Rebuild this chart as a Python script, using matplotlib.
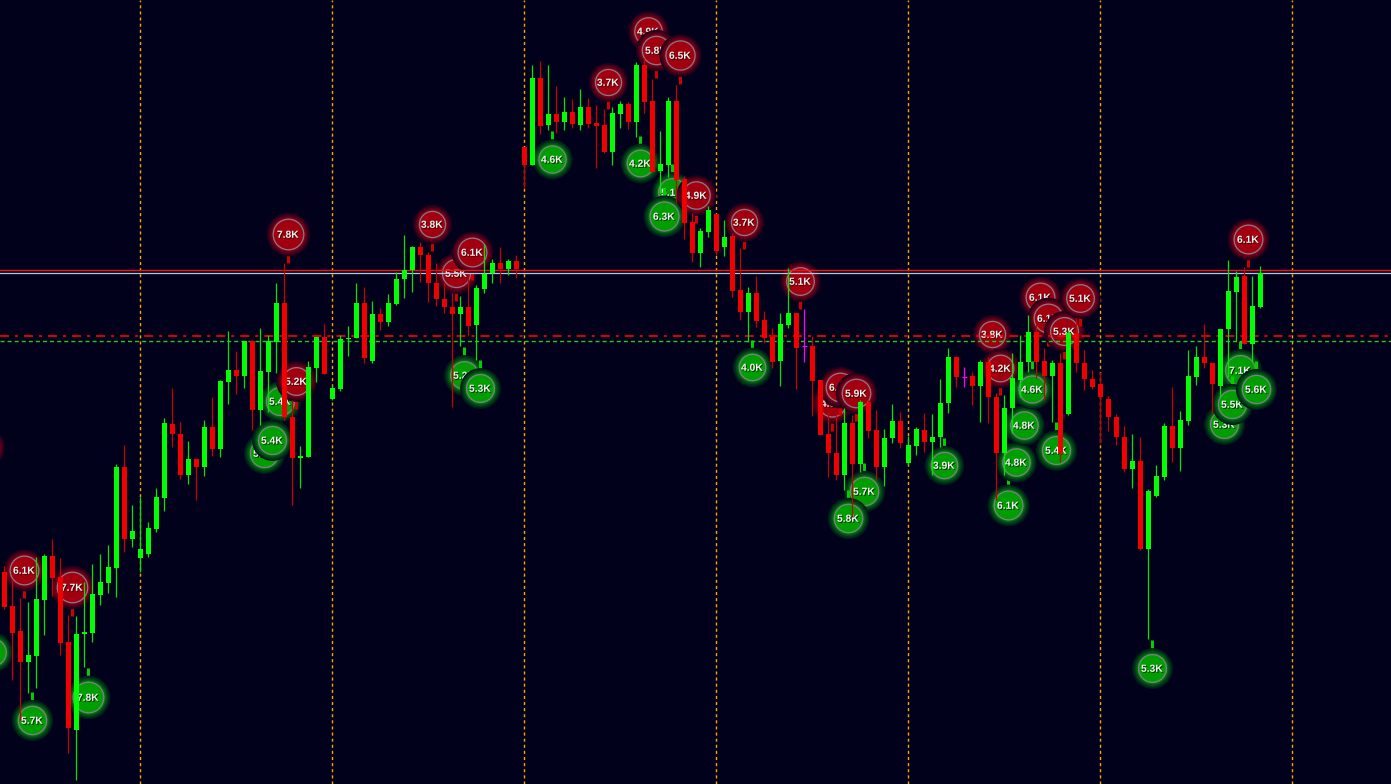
import matplotlib
matplotlib.use("Agg")
import matplotlib.pyplot as plt
import matplotlib.patheffects as pe

plt.rcParams['lines.scale_dashes'] = False

# ---------------- data (price in points) ----------------
opens = [428, 394, 369, 338, 344, 400, 444, 423, 358, 270, 366, 367, 405, 417, 432, 533, 461, 442, 446, 471,
         502, 576, 566, 525, 541, 533, 573, 551, 618, 630, 624, 659, 590, 628, 658, 697, 583, 542, 543, 632,
         663, 601, 611, 661, 662, 697, 639, 686, 678, 696, 721, 730, 753, 745, 717, 701, 693, 686, 693, 675,
         711, 727, 737, 731, 739, 853, 835, 922, 875, 886, 878, 888, 875, 893, 877, 875, 848, 886, 896, 878,
         935, 899, 829, 835, 899, 821, 778, 747, 768, 786, 753, 764, 710, 688, 707, 680, 663, 639, 675, 687,
         654, 654, 620, 566, 547, 525, 577, 536, 598, 570, 533, 562, 579, 537, 554, 570, 558, 563, 597, 643,
         623, 624, 614, 638, 603, 547, 592, 620, 638, 668, 639, 624, 637, 586, 667, 637, 621, 616, 601, 583,
         563, 531, 539, 451, 504, 523, 574, 552, 579, 623, 643, 637, 614, 671, 708, 724, 656, 693]
highs = [434, 420, 402, 398, 443, 446, 461, 442, 385, 384, 418, 436, 446, 455, 536, 555, 495, 503, 478, 512,
         582, 612, 578, 559, 541, 580, 603, 620, 669, 649, 659, 660, 672, 665, 717, 737, 600, 554, 639, 663,
         676, 615, 665, 674, 717, 713, 699, 692, 706, 728, 765, 754, 758, 748, 737, 717, 707, 704, 725, 715,
         756, 741, 753, 741, 745, 853, 935, 939, 935, 914, 903, 901, 911, 902, 895, 891, 893, 899, 898, 938,
         942, 921, 869, 903, 915, 824, 787, 772, 794, 786, 780, 767, 752, 713, 724, 689, 672, 687, 732, 687,
         691, 664, 620, 588, 587, 592, 585, 600, 600, 590, 571, 596, 588, 564, 573, 587, 586, 621, 652, 644,
         633, 628, 640, 643, 607, 605, 647, 665, 685, 677, 652, 640, 647, 670, 682, 650, 630, 628, 604, 586,
         574, 566, 563, 511, 535, 577, 613, 589, 650, 654, 676, 637, 671, 740, 729, 733, 724, 734]
lows = [391, 320, 280, 307, 312, 365, 404, 345, 247, 220, 333, 358, 395, 407, 403, 448, 453, 428, 443, 468,
        489, 553, 521, 516, 500, 524, 544, 543, 596, 606, 612, 570, 575, 588, 627, 580, 495, 512, 543, 618,
        626, 600, 609, 644, 662, 637, 637, 670, 674, 695, 702, 708, 718, 698, 694, 687, 593, 654, 664, 640,
        707, 717, 717, 725, 722, 812, 835, 866, 870, 867, 870, 872, 870, 872, 832, 847, 835, 872, 871, 863,
        887, 828, 807, 823, 797, 761, 738, 733, 763, 745, 744, 703, 680, 658, 673, 657, 632, 614, 672, 611,
        638, 584, 565, 523, 520, 510, 483, 528, 562, 520, 514, 557, 552, 535, 545, 548, 525, 553, 587, 613,
        613, 595, 578, 577, 500, 525, 567, 603, 628, 622, 600, 578, 538, 585, 628, 610, 611, 557, 569, 555,
        528, 512, 450, 361, 503, 520, 538, 529, 575, 615, 632, 587, 603, 623, 659, 656, 638, 692]
closes = [393, 367, 338, 345, 401, 444, 422, 357, 272, 366, 368, 406, 418, 433, 533, 461, 469, 451, 472, 503,
          577, 566, 525, 541, 533, 573, 551, 619, 630, 624, 659, 590, 629, 659, 697, 583, 542, 544, 633, 663,
          626, 612, 661, 662, 697, 642, 686, 678, 697, 721, 730, 753, 745, 717, 701, 693, 686, 693, 674, 712,
          726, 737, 731, 739, 731, 835, 922, 874, 886, 878, 888, 876, 893, 876, 874, 848, 887, 896, 878, 935,
          898, 828, 836, 899, 820, 777, 747, 769, 790, 749, 763, 709, 688, 707, 679, 662, 638, 676, 687, 652,
          654, 619, 565, 547, 525, 577, 536, 598, 569, 533, 562, 579, 557, 555, 571, 558, 563, 597, 643, 623,
          623, 614, 638, 603, 547, 592, 622, 638, 668, 638, 624, 637, 547, 667, 637, 621, 613, 603, 583, 563,
          531, 539, 451, 509, 524, 574, 552, 580, 624, 643, 637, 616, 671, 709, 723, 656, 694, 727]

separator_idx = [17, 41, 65, 89, 113, 137, 161]
bid_level = 730
ask_level = 727
dashdot_level = 664
dashed_level = 659

buy_idx = [-2, 3, 10, 32, 33, 34, 57, 59, 68, 79, 83, 82, 93, 107, 105, 117, 125, 126, 127, 128,
           131, 143, 152, 154, 153, 156]
buy_price = [348, 280, 303, 547, 560, 599, 625, 612, 841, 837, 808, 784, 633, 509, 482, 535, 495, 538,
             575, 611, 550, 332, 576, 630, 596, 611]
buy_vol = [5.0, 5.7, 7.8, 5.5, 5.4, 5.4, 5.2, 5.3, 4.6, 4.2, 5.1, 6.3, 4.0, 5.7, 5.8, 3.9, 6.1, 4.8,
           4.8, 4.6, 5.4, 5.3, 5.3, 7.1, 5.5, 5.6]

sell_idx = [-3, 2, 8, 35, 36, 53, 56, 58, 75, 80, 81, 84, 86, 92, 99, 103, 104, 106, 123, 124,
            129, 130, 132, 134, 155]
sell_price = [553, 430, 413, 766, 619, 776, 727, 748, 918, 969, 950, 945, 805, 778, 719, 597, 613,
              607, 666, 632, 703, 682, 669, 702, 761]
sell_vol = [5.0, 6.1, 7.7, 7.8, 5.2, 3.8, 5.5, 6.1, 3.7, 4.9, 5.8, 6.5, 4.9, 3.7, 5.1, 4.6, 6.0,
            5.9, 3.8, 4.2, 6.1, 6.1, 5.3, 5.1, 6.1]

# ---------------- style ----------------
BG = '#01011c'
UP = '#00ff00'
UP_WICK = '#00e600'
DN = '#f00000'
DN_WICK = '#c80000'
DOJI = '#ff00ff'
PX = 0.72  # points per pixel at dpi 100

fig = plt.figure(figsize=(13.91, 7.84), dpi=100, facecolor=BG)
ax = fig.add_axes([0, 0, 1, 1])
ax.set_facecolor(BG)
x_lo = -4.3 / 8
ax.set_xlim(x_lo, (1391 - 4.3) / 8)
ax.set_ylim(216, 1000)
ax.axis('off')

# separators
for s in separator_idx:
    ax.axvline(s, color='#ffa500', lw=1.0, dashes=(2.2, 2.2), zorder=1)


def bubble(k, price, vol, kind):
    x = k + 0.44
    r = 11 + 0.55 * vol
    if kind == 'sell':
        layers = [(6.5, '#22001a'), (5.0, '#3c001a'), (3.5, '#5a0018'), (2.0, '#7a0014'), (0.8, '#900012')]
        core = '#a2000f'
        ptr_col = '#d00000'
        p0, p1 = price - (r + 6), price - (r + 14)
        shadow = '#300000'
    else:
        layers = [(6.5, '#001c1a'), (5.0, '#003318'), (3.5, '#004d14'), (2.0, '#006c0e'), (0.8, '#008a08')]
        core = '#009e00'
        ptr_col = '#00d000'
        p0, p1 = price + (r + 6), price + (r + 14)
        shadow = '#002000'
    ax.plot([x, x], [p0, p1], color=ptr_col, lw=2.2, solid_capstyle='butt', zorder=2)
    for dr, col in layers:
        ax.scatter([x], [price], s=(2 * (r + dr) * PX) ** 2, color=col, linewidths=0, zorder=2)
    ax.scatter([x], [price], s=(2 * r * PX) ** 2, facecolor=core, edgecolor='#857a90',
               linewidths=0.9, zorder=2)
    if x > x_lo:
        ax.text(x, price - 0.8, f"{vol:.1f}K", ha='center', va='center', fontsize=7.4,
                fontweight='bold', family=['Liberation Sans', 'DejaVu Sans'], color='#f2f2f2', zorder=2,
                path_effects=[pe.withSimplePatchShadow(offset=(0.7, -0.7), shadow_rgbFace=shadow, alpha=0.9)])


for k, p, v in zip(buy_idx, buy_price, buy_vol):
    bubble(k, p, v, 'buy')
for k, p, v in zip(sell_idx, sell_price, sell_vol):
    bubble(k, p, v, 'sell')

# price levels
ax.axhline(bid_level, color='#ff1010', lw=1.0, zorder=2.5)
ax.axhline(ask_level, color='#a8cbe8', lw=0.9, zorder=2.5)
ax.axhline(dashdot_level, color='#ff0000', lw=1.2, dashes=(6.5, 4.3, 2.2, 4.3), zorder=2.5)
ax.axhline(dashed_level, color='#22cc22', lw=1.0, dashes=(2.9, 2.2), zorder=2.5)

# candles
for k, (o, h, l, c) in enumerate(zip(opens, highs, lows, closes)):
    if c > o:
        bcol, wcol = UP, UP_WICK
    elif c < o:
        bcol, wcol = DN, DN_WICK
    else:
        bcol, wcol = DOJI, DOJI
    ax.vlines(k, l, h, color=wcol, lw=0.9, zorder=3)
    if c != o:
        ax.bar(k, abs(c - o), bottom=min(o, c), width=0.625, color=bcol, linewidth=0, zorder=3.1)
    else:
        ax.hlines(o, k - 0.33, k + 0.33, color=bcol, lw=0.9, zorder=3.1)

fig.savefig('out.png', dpi=100, facecolor=BG)
